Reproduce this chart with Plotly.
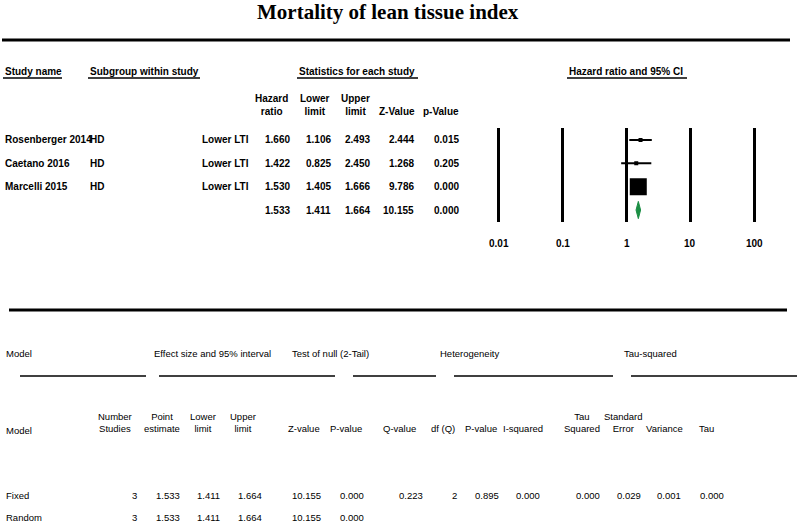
import math
import plotly.graph_objects as go

W, H = 800, 526

# ---- forest plot data ----
study_names = ["Rosenberger 2014", "Caetano 2016", "Marcelli 2015"]
subgroups = ["HD", "HD", "HD"]
outcomes = ["Lower LTI", "Lower LTI", "Lower LTI"]
hazard_ratio = [1.660, 1.422, 1.530]
lower_limit = [1.106, 0.825, 1.405]
upper_limit = [2.493, 2.450, 1.666]
z_value = [2.444, 1.268, 9.786]
p_value = [0.015, 0.205, 0.000]

pooled_hr = 1.533
pooled_lower = 1.411
pooled_upper = 1.664
pooled_z = 10.155
pooled_p = 0.000

tick_vals = [0.01, 0.1, 1, 10, 100]
tick_labels = ["0.01", "0.1", "1", "10", "100"]

# ---- summary table data ----
model_names = ["Fixed", "Random"]
num_studies = [3, 3]
point_estimate = [1.533, 1.533]
model_lower = [1.411, 1.411]
model_upper = [1.664, 1.664]
model_z = [10.155, 10.155]
model_p = [0.000, 0.000]
het_q = 0.223
het_df = 2
het_p = 0.895
i_squared = 0.000
tau_squared = 0.000
tau_se = 0.029
tau_variance = 0.001
tau = 0.000

TOP_FONT = "Liberation Sans, Arial, sans-serif"
LOW_FONT = "Liberation Sans Narrow, Arial Narrow, Liberation Sans, Arial, sans-serif"
LOW_SIZE = 9.5


def px(x):
    return x / W


def py(y):
    return 1 - y / H


fig = go.Figure()

# study weights (inverse variance) drive the box size
weights = [1 / ((math.log(u) - math.log(l)) / 3.92) ** 2 for l, u in zip(lower_limit, upper_limit)]
wmax = max(weights)
sizes = [max(4, 17 * math.sqrt(w / wmax)) for w in weights]
rows = list(range(len(study_names)))

# confidence intervals
fig.add_trace(go.Scatter(
    x=hazard_ratio, y=rows, mode="markers", marker=dict(size=1, color="rgba(0,0,0,0)"),
    error_x=dict(type="data", symmetric=False,
                 array=[u - h for u, h in zip(upper_limit, hazard_ratio)],
                 arrayminus=[h - l for h, l in zip(hazard_ratio, lower_limit)],
                 color="black", thickness=2, width=0),
    showlegend=False, hoverinfo="skip"))
# study boxes
fig.add_trace(go.Scatter(
    x=hazard_ratio, y=rows, mode="markers",
    marker=dict(symbol="square", size=sizes, color="black", opacity=1,
                line=dict(color="black", width=0)),
    showlegend=False, hoverinfo="skip"))

prow = len(study_names)
fig.add_trace(go.Scatter(
    x=[pooled_lower, pooled_hr, pooled_upper, pooled_hr, pooled_lower],
    y=[prow, prow - 0.37, prow, prow + 0.37, prow],
    mode="lines", fill="toself", fillcolor="#1c8f45", line=dict(color="#1c8f45", width=1),
    showlegend=False, hoverinfo="skip"))

ann = []


def text(x, y, s, xanchor="left", yanchor="middle", size=10, font=TOP_FONT, bold=True):
    t = f"<b>{s}</b>" if bold else s
    ann.append(dict(x=px(x), y=py(y), xref="paper", yref="paper", text=t, showarrow=False,
                    xanchor=xanchor, yanchor=yanchor,
                    font=dict(family=font, size=size, color="black")))


def low(x, y, s, xanchor="left", yanchor="middle"):
    text(x, y, s, xanchor=xanchor, yanchor=yanchor, size=LOW_SIZE, font=LOW_FONT, bold=False)


# title
ann.append(dict(x=px(388), y=py(12), xref="paper", yref="paper", showarrow=False,
                text="<b>Mortality of lean tissue index</b>", xanchor="center", yanchor="middle",
                font=dict(family="Liberation Serif, Times New Roman, serif", size=21, color="black")))

# top headers
text(3, 71, "Study name")
text(88, 71, "Subgroup within study")
text(297, 71, "Statistics for each study")
text(567, 71, "Hazard ratio and 95% CI")
for c, s in [(271, "Hazard<br>ratio"), (315, "Lower<br>limit"), (355, "Upper<br>limit"),
             (397, "Z-Value"), (441, "p-Value")]:
    text(c, 119, s, xanchor="center", yanchor="bottom")

# study rows, placed on the forest plot's row scale
for i, name in enumerate(study_names):
    for x, s, xa in [(3, name, "left"), (88, subgroups[i], "left"), (251, outcomes[i], "right"),
                     (292, f"{hazard_ratio[i]:.3f}", "right"), (333, f"{lower_limit[i]:.3f}", "right"),
                     (372, f"{upper_limit[i]:.3f}", "right"), (416, f"{z_value[i]:.3f}", "right"),
                     (461, f"{p_value[i]:.3f}", "right")]:
        ann.append(dict(x=px(x), y=i, xref="paper", yref="y", text=f"<b>{s}</b>", showarrow=False,
                        xanchor=xa, yanchor="middle", font=dict(family=TOP_FONT, size=10, color="black")))
for x, s in [(292, f"{pooled_hr:.3f}"), (333, f"{pooled_lower:.3f}"), (372, f"{pooled_upper:.3f}"),
             (416, f"{pooled_z:.3f}"), (461, f"{pooled_p:.3f}")]:
    ann.append(dict(x=px(x), y=prow, xref="paper", yref="y", text=f"<b>{s}</b>", showarrow=False,
                    xanchor="right", yanchor="middle", font=dict(family=TOP_FONT, size=10, color="black")))

# axis tick labels for the forest plot
for v, lab in zip(tick_vals, tick_labels):
    ann.append(dict(x=math.log10(v), y=py(243), xref="x", yref="paper", text=f"<b>{lab}</b>",
                    showarrow=False, xanchor="center", yanchor="middle",
                    font=dict(family=TOP_FONT, size=10, color="black")))

# summary table headers
low(4, 353, "Model")
low(152, 353, "Effect size and 95% interval")
low(290, 353, "Test of null (2-Tail)")
low(438, 353, "Heterogeneity")
low(622, 353, "Tau-squared")

low(4, 430, "Model")
for c, s in [(115, "Number<br>Studies"), (162, "Point<br>estimate"), (203, "Lower<br>limit"),
             (243, "Upper<br>limit"), (304, "Z-value"), (346, "P-value"), (399, "Q-value"),
             (443, "df (Q)"), (481, "P-value"), (523, "I-squared"), (582, "Tau<br>Squared"),
             (623, "Standard<br>Error"), (664, "Variance"), (706, "Tau")]:
    low(c, 436, s, xanchor="center", yanchor="bottom")

for i, m in enumerate(model_names):
    y = 495 + 22 * i
    low(4, y, m)
    vals = [(139, f"{num_studies[i]}"), (182, f"{point_estimate[i]:.3f}"), (222, f"{model_lower[i]:.3f}"),
            (264, f"{model_upper[i]:.3f}"), (323, f"{model_z[i]:.3f}"), (366, f"{model_p[i]:.3f}")]
    if m == "Fixed":
        vals += [(425, f"{het_q:.3f}"), (459, f"{het_df}"), (501, f"{het_p:.3f}"), (542, f"{i_squared:.3f}"),
                 (602, f"{tau_squared:.3f}"), (643, f"{tau_se:.3f}"), (683, f"{tau_variance:.3f}"),
                 (726, f"{tau:.3f}")]
    for x, s in vals:
        low(x, y, s, xanchor="right")

# rules and underlines
shapes = []


def hline(x0, x1, y, w):
    shapes.append(dict(type="line", xref="paper", yref="paper", x0=px(x0), x1=px(x1),
                       y0=py(y), y1=py(y), line=dict(color="black", width=w)))


hline(2, 790, 40, 3)
hline(9, 787, 310, 3)
for x0, x1 in [(3, 62), (88, 200), (297, 418), (567, 687)]:
    hline(x0, x1, 78, 1.3)
for x0, x1 in [(20, 146), (159, 335), (353, 436), (454, 613), (631, 797)]:
    hline(x0, x1, 376, 1.3)

fig.update_layout(
    width=W, height=H, margin=dict(l=0, r=0, t=0, b=0),
    paper_bgcolor="white", plot_bgcolor="white",
    xaxis=dict(type="log", range=[-2.1, 2.1], domain=[px(492.6), px(760.4)],
               tickvals=tick_vals, showticklabels=False, showgrid=True, gridcolor="black",
               gridwidth=2.5, zeroline=False, showline=False, ticks=""),
    yaxis=dict(range=[3.5, -0.5], domain=[py(221.7), py(128.3)], visible=False),
    annotations=ann, shapes=shapes,
)

fig.write_html("out.html", config={"displayModeBar": False},
               post_script="document.body.style.margin='0px';")
